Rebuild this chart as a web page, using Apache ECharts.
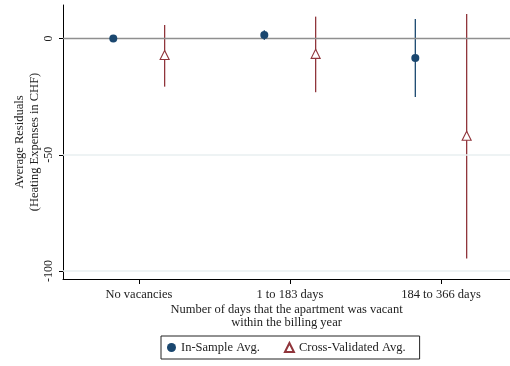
<!DOCTYPE html>
<html>
<head>
<meta charset="utf-8">
<script src="https://cdn.jsdelivr.net/npm/echarts@6/dist/echarts.min.js"></script>
<style>
  html, body { margin: 0; padding: 0; background: #fff; }
  #chart { width: 510px; height: 366px; }
</style>
</head>
<body>
<div id="chart"></div>
<script>
// Vacancy groups along the x axis
var categories = ['No vacancies', '1 to 183 days', '184 to 366 days'];

// In-sample average residuals with confidence bounds
var inSampleMean = [0, 1.5, -8.4];
var inSampleLow  = [-0.5, -0.6, -25.2];
var inSampleHigh = [0.5, 3.5, 8.4];

// Cross-validated average residuals with confidence bounds
var cvMean = [-7.1, -6.6, -41.8];
var cvLow  = [-20.7, -23.1, -94.6];
var cvHigh = [5.8, 9.4, 10.5];

// Y tick labels
var yTicks = [0, -50, -100];

var NAVY = '#1a476f';
var MAROON = '#90353b';
var FONT = '"Liberation Serif", "DejaVu Serif", serif';
var OFFSET = 0.17;

function points(mean, shift) {
  return mean.map(function (v, i) { return [i + 1 + shift, v]; });
}
function bars(low, high, shift) {
  return low.map(function (v, i) { return [i + 1 + shift, v, high[i]]; });
}
function errorBarRender(color) {
  return function (params, api) {
    var x = api.value(0);
    var a = api.coord([x, api.value(1)]);
    var b = api.coord([x, api.value(2)]);
    return {
      type: 'line',
      shape: { x1: a[0], y1: a[1], x2: b[0], y2: b[1] },
      style: { stroke: color, lineWidth: 1.3 }
    };
  };
}

var chart = echarts.init(document.getElementById('chart'));
chart.setOption({
  animation: false,
  backgroundColor: '#fff',
  textStyle: { fontFamily: FONT },
  grid: { left: 63, right: 0, top: 5, bottom: 87, containLabel: false, outerBoundsMode: 'none' },
  xAxis: {
    type: 'value',
    min: 0.497,
    max: 3.457,
    name: 'Number of days that the apartment was vacant\nwithin the billing year',
    nameLocation: 'middle',
    nameGap: 24,
    nameMoveOverlap: false,
    nameTextStyle: { fontFamily: FONT, fontSize: 12.5, color: '#222', lineHeight: 13 },
    axisLine: { show: true, onZero: false, lineStyle: { color: '#000', width: 1 } },
    axisTick: { show: true, customValues: [1, 2, 3], length: 5, lineStyle: { color: '#000' } },
    axisLabel: {
      customValues: [1, 2, 3],
      margin: 9,
      fontFamily: FONT, fontSize: 12.5, color: '#222',
      formatter: function (v) { return categories[Math.round(v) - 1]; }
    },
    splitLine: { show: false }
  },
  yAxis: {
    type: 'value',
    min: -103.4,
    max: 14.4,
    name: 'Average Residuals\n(Heating Expenses in CHF)',
    nameLocation: 'middle',
    nameRotate: 90,
    nameGap: 21,
    nameMoveOverlap: false,
    nameTextStyle: { fontFamily: FONT, fontSize: 12.5, color: '#222', lineHeight: 15 },
    axisLine: { show: true, onZero: false, lineStyle: { color: '#000', width: 1 } },
    axisTick: { show: true, customValues: yTicks, length: 4, lineStyle: { color: '#000' } },
    axisLabel: {
      customValues: yTicks,
      rotate: 90,
      margin: 8,
      fontFamily: FONT, fontSize: 12, color: '#222'
    },
    splitLine: { show: false }
  },
  legend: {
    left: 161,
    top: 336,
    orient: 'horizontal',
    data: ['In-Sample Avg.', 'Cross-Validated Avg.'],
    itemWidth: 9,
    itemHeight: 9,
    itemGap: 24,
    padding: [5, 14, 5, 6],
    borderColor: '#222',
    borderWidth: 1,
    textStyle: { fontFamily: FONT, fontSize: 12.5, color: '#222' }
  },
  series: [
    {
      type: 'custom',
      name: 'ref-lines',
      data: [],
      silent: true,
      markLine: {
        silent: true,
        symbol: 'none',
        label: { show: false },
        data: [
          { yAxis: -50, lineStyle: { color: '#e8eff0', width: 1.5, type: 'solid' } },
          { yAxis: -100, lineStyle: { color: '#e8eff0', width: 1.5, type: 'solid' } },
          { yAxis: 0, lineStyle: { color: '#8f8f8f', width: 1.3, type: 'solid' } }
        ]
      }
    },
    {
      type: 'custom',
      name: 'in-sample-ci',
      renderItem: errorBarRender(NAVY),
      data: bars(inSampleLow, inSampleHigh, -OFFSET),
      encode: { x: 0, y: [1, 2] },
      silent: true,
      z: 3
    },
    {
      type: 'custom',
      name: 'cv-ci',
      renderItem: errorBarRender(MAROON),
      data: bars(cvLow, cvHigh, OFFSET),
      encode: { x: 0, y: [1, 2] },
      silent: true,
      z: 3
    },
    {
      type: 'scatter',
      name: 'In-Sample Avg.',
      symbol: 'circle',
      symbolSize: 8,
      itemStyle: { color: NAVY, opacity: 1 },
      data: points(inSampleMean, -OFFSET),
      z: 5
    },
    {
      type: 'scatter',
      name: 'Cross-Validated Avg.',
      symbol: 'triangle',
      symbolSize: 9,
      itemStyle: { color: '#fff', borderColor: MAROON, borderWidth: 1.1, opacity: 1 },
      data: points(cvMean, OFFSET),
      z: 5
    }
  ]
});
</script>
</body>
</html>
